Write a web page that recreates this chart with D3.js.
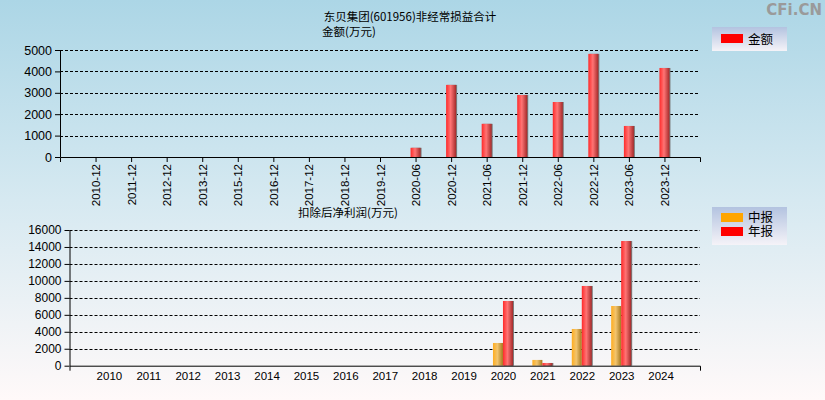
<!DOCTYPE html>
<html><head><meta charset="utf-8">
<script src="https://cdn.jsdelivr.net/npm/d3@7"></script>
<style>html,body{margin:0;padding:0;}svg{display:block;font-family:"Liberation Sans",Arial,sans-serif;}</style>
</head><body>
<script>
const topCategories = ["2010-12","2011-12","2012-12","2013-12","2015-12","2016-12","2017-12","2018-12","2019-12","2020-06","2020-12","2021-06","2021-12","2022-06","2022-12","2023-06","2023-12"];
const topValues = [null,null,null,null,null,null,null,null,null,430,3370,1550,2900,2570,4820,1450,4160];
const topTicks = [0,1000,2000,3000,4000,5000];

const botYears = ["2010","2011","2012","2013","2014","2015","2016","2017","2018","2019","2020","2021","2022","2023","2024"];
const midValues = [null,null,null,null,null,null,null,null,null,null,2680,680,4330,7040,null];
const annValues = [null,null,null,null,null,null,null,null,null,null,7630,320,9400,14700,null];
const botTicks = [0,2000,4000,6000,8000,10000,12000,14000,16000];

const W=825,H=400;
const CJK="Noto Sans CJK SC, sans-serif";
const LEGF="Liberation Sans, Noto Sans CJK SC, sans-serif";
const svg=d3.select("body").append("svg").attr("width",W).attr("height",H);
const defs=svg.append("defs");
const bg=defs.append("linearGradient").attr("id","bg").attr("x1",0).attr("y1",0).attr("x2",0).attr("y2",1);
bg.append("stop").attr("offset","0%").attr("stop-color","#acd6e6");
bg.append("stop").attr("offset","50%").attr("stop-color","#d6e9f1");
bg.append("stop").attr("offset","100%").attr("stop-color","#fff9f9");
const rg=defs.append("linearGradient").attr("id","red").attr("x1",0).attr("y1",0).attr("x2",1).attr("y2",0);
rg.append("stop").attr("offset","0%").attr("stop-color","#ff2a2a");
rg.append("stop").attr("offset","45%").attr("stop-color","#ff7474");
rg.append("stop").attr("offset","100%").attr("stop-color","#a52a2a");
const og=defs.append("linearGradient").attr("id","org").attr("x1",0).attr("y1",0).attr("x2",1).attr("y2",0);
og.append("stop").attr("offset","0%").attr("stop-color","#ffad20");
og.append("stop").attr("offset","45%").attr("stop-color","#f2c46e");
og.append("stop").attr("offset","100%").attr("stop-color","#a5781e");
const lg=defs.append("linearGradient").attr("id","leg").attr("x1",0).attr("y1",0).attr("x2",0).attr("y2",1);
lg.append("stop").attr("offset","0%").attr("stop-color","#b3c3e0");
lg.append("stop").attr("offset","100%").attr("stop-color","#f5f3f8");

svg.append("rect").attr("width",W).attr("height",H).attr("fill","url(#bg)");

svg.append("text").attr("x",822).attr("y",15).attr("text-anchor","end").attr("font-size",15).attr("font-weight","bold").attr("fill","#9a9a9a").attr("font-family","DejaVu Sans, sans-serif").text("CFi.CN");

// titles
svg.append("text").attr("x",410).attr("y",21).attr("text-anchor","middle").attr("font-size",11.5).attr("font-family",CJK).text("东贝集团(601956)非经常损益合计");
svg.append("text").attr("x",322).attr("y",36).attr("font-size",11.5).attr("font-family",CJK).text("金额(万元)");
svg.append("text").attr("x",298).attr("y",217).attr("font-size",11.5).attr("font-family",CJK).text("扣除后净利润(万元)");

function grid(g, y, ticks, x0, x1){
  g.selectAll("line.grid").data(ticks.filter(t=>t>0)).enter().append("line")
   .attr("x1",x0).attr("x2",x1).attr("y1",d=>Math.round(y(d))+0.5).attr("y2",d=>Math.round(y(d))+0.5)
   .attr("stroke","#000").attr("stroke-dasharray","3,2").attr("stroke-width",1);
}
function styleAxis(ax){
  ax.selectAll("path,line").attr("stroke","#000");
  ax.selectAll("text").attr("fill","#000");
}
const fmt=d3.format("d");

// ---- top chart
const tx=d3.scaleLinear().domain([0,topCategories.length+1]).range([60,700]);
const ty=d3.scaleLinear().domain([0,5000]).range([157,50]);
const gt=svg.append("g");
grid(gt,ty,topTicks,60,700);
const bw=10;
topValues.forEach((v,i)=>{
  if(v==null)return;
  const cx=tx(i+1);
  gt.append("rect").attr("x",cx-bw/2+1).attr("y",ty(v)).attr("width",bw).attr("height",ty(0)-ty(v)).attr("fill","#7a7a7a");
  gt.append("rect").attr("x",cx-bw/2).attr("y",ty(v)).attr("width",bw).attr("height",ty(0)-ty(v)).attr("fill","url(#red)");
});
const tyAx=gt.append("g").attr("transform","translate(60,0)")
  .call(d3.axisLeft(ty).tickValues(topTicks).tickFormat(fmt).tickSize(5).tickSizeOuter(0).tickPadding(3));
tyAx.selectAll("text").attr("font-size",12.5);
styleAxis(tyAx);
const txAx=gt.append("g").attr("transform","translate(0,157)")
  .call(d3.axisBottom(tx).tickValues(d3.range(1,topCategories.length+1)).tickFormat(d=>topCategories[d-1]).tickSize(5).tickSizeOuter(5));
txAx.selectAll("text").attr("font-size",11.5).attr("text-anchor","end").attr("x",0).attr("y",0).attr("dx",0).attr("dy","0.35em")
  .attr("transform","translate(0,7) rotate(-90)");
styleAxis(txAx);

// legend top
svg.append("rect").attr("x",712).attr("y",27).attr("width",75).attr("height",24).attr("fill","url(#leg)");
svg.append("rect").attr("x",721).attr("y",34).attr("width",22).attr("height",9).attr("fill","#ff0000");
svg.append("text").attr("x",748).attr("y",43.5).attr("font-size",12.5).attr("font-family",LEGF).text("金额");

// ---- bottom chart
const bx=d3.scaleLinear().domain([0,botYears.length+1]).range([69.5,700]);
const by=d3.scaleLinear().domain([0,16000]).range([365.7,230]);
const gb=svg.append("g");
grid(gb,by,botTicks,69.5,700);
botYears.forEach((yr,i)=>{
  const cx=bx(i+1);
  const m=midValues[i], a=annValues[i];
  if(m!=null){
    gb.append("rect").attr("x",cx-bw).attr("y",by(m)).attr("width",bw).attr("height",by(0)-by(m)).attr("fill","url(#org)");
  }
  if(a!=null){
    gb.append("rect").attr("x",cx+1).attr("y",by(a)).attr("width",bw).attr("height",by(0)-by(a)).attr("fill","#7a7a7a");
    gb.append("rect").attr("x",cx).attr("y",by(a)).attr("width",bw).attr("height",by(0)-by(a)).attr("fill","url(#red)");
  }
});
const byAx=gb.append("g").attr("transform","translate(69.5,0)")
  .call(d3.axisLeft(by).tickValues(botTicks).tickFormat(fmt).tickSize(5).tickSizeOuter(0).tickPadding(3));
byAx.selectAll("text").attr("font-size",12);
styleAxis(byAx);
const bxAx=gb.append("g").attr("transform","translate(0,365.7)")
  .call(d3.axisBottom(bx).tickValues(d3.range(1,botYears.length+1)).tickFormat(d=>botYears[d-1]).tickSizeInner(0).tickSizeOuter(5).tickPadding(6));
bxAx.selectAll("text").attr("font-size",11.5);
styleAxis(bxAx);

// legend bottom
svg.append("rect").attr("x",712).attr("y",207).attr("width",75).attr("height",38).attr("fill","url(#leg)");
svg.append("rect").attr("x",721).attr("y",213).attr("width",22).attr("height",9).attr("fill","#ffa500");
svg.append("rect").attr("x",721).attr("y",227).attr("width",22).attr("height",9).attr("fill","#ff0000");
svg.append("text").attr("x",748).attr("y",222).attr("font-size",12.5).attr("font-family",LEGF).text("中报");
svg.append("text").attr("x",748).attr("y",236).attr("font-size",12.5).attr("font-family",LEGF).text("年报");
</script>
</body></html>
